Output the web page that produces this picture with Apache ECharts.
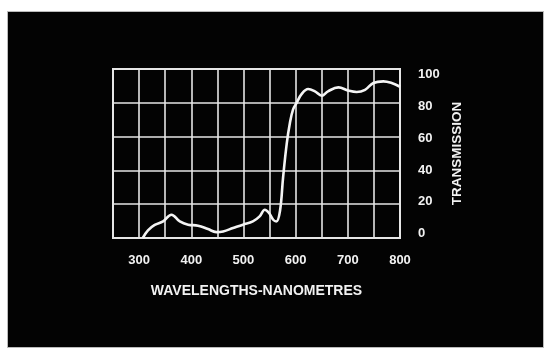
<!DOCTYPE html>
<html>
<head>
<meta charset="utf-8">
<script src="https://cdn.jsdelivr.net/npm/echarts@6/dist/echarts.min.js"></script>
<style>
  html, body { margin: 0; padding: 0; background: #fff; }
  #wrap { position: relative; width: 550px; height: 355px; background: #fff; }
  #panel { position: absolute; left: 8px; top: 12px; width: 535px; height: 335px; background: #030303; box-shadow: 0 0 0 1px #bbb; }
  #chart { position: absolute; left: 0; top: 0; width: 550px; height: 355px; }
</style>
</head>
<body>
<div id="wrap">
  <div id="panel"></div>
  <div id="chart"></div>
</div>
<script>
// wavelength (nm) and transmission (%)
const wavelengths = [307, 317, 330, 346, 362, 378, 394, 413, 432, 448, 461, 480, 499, 518, 531, 541, 549, 557, 563, 570, 576, 583, 589, 595, 602, 611, 624, 637, 650, 662, 682, 701, 717, 733, 749, 768, 784, 800];
const transmission = [0, 4.5, 7.7, 9.8, 13.8, 9.8, 7.9, 7.3, 5.3, 3.5, 3.9, 5.9, 7.9, 9.8, 12.8, 16.7, 14.8, 10.8, 9.8, 16, 36, 56, 68, 76, 80, 85, 88.2, 86.8, 84.2, 86.8, 89.1, 87.2, 86.4, 87.7, 91.7, 92.7, 91.7, 89.5];
const xTicks = [300, 400, 500, 600, 700, 800];
const yTicks = [0, 20, 40, 60, 80, 100];

const ink = "#e6e6e6";
const font = "Liberation Sans";

const chart = echarts.init(document.getElementById("chart"), null, { renderer: "canvas" });

chart.setOption({
  backgroundColor: "transparent",
  animation: false,
  grid: {
    left: 113,
    right: 150,
    top: 69,
    bottom: 117,
    show: true,
    borderColor: ink,
    borderWidth: 2,
    backgroundColor: "transparent",
  },
  xAxis: {
    type: "value",
    min: 250,
    max: 800,
    interval: 50,
    axisLine: { show: false },
    axisTick: { show: false },
    splitLine: { show: true, lineStyle: { color: ink, width: 1.6 } },
    axisLabel: {
      color: "#f2f2f2",
      fontFamily: font,
      fontWeight: "bold",
      fontSize: 13,
      margin: 16,
      formatter: (v) => (xTicks.includes(v) ? String(v) : ""),
    },
    name: "WAVELENGTHS-NANOMETRES",
    nameLocation: "middle",
    nameGap: 46,
    nameTextStyle: {
      color: "#f2f2f2",
      fontFamily: font,
      fontWeight: "bold",
      fontSize: 14,
    },
  },
  yAxis: [
    {
      type: "value",
      position: "right",
      min: 0,
      max: 100,
      interval: 20,
      axisLine: { show: false },
      axisTick: { show: false },
      axisLabel: { show: false },
      splitLine: { show: true, lineStyle: { color: ink, width: 1.6 } },
    },
    {
      // printed labels sit a little off the grid lines in the original
      type: "value",
      position: "right",
      min: -2.7,
      max: 103.6,
      axisLine: { show: false },
      axisTick: { show: false },
      splitLine: { show: false },
      axisLabel: {
        customValues: yTicks,
        color: "#f2f2f2",
        fontFamily: font,
        fontWeight: "bold",
        fontSize: 13,
        margin: 18,
      },
      name: "TRANSMISSION",
      nameLocation: "middle",
      nameGap: 44,
      nameTextStyle: {
        color: "#f2f2f2",
        fontFamily: font,
        fontWeight: "bold",
        fontSize: 13.5,
      },
    },
  ],
  series: [
    {
      type: "line",
      yAxisIndex: 0,
      data: wavelengths.map((w, i) => [w, transmission[i]]),
      smooth: 0.4,
      showSymbol: false,
      lineStyle: { color: "#f4f4f4", width: 2.6 },
    },
  ],
});
</script>
</body>
</html>
